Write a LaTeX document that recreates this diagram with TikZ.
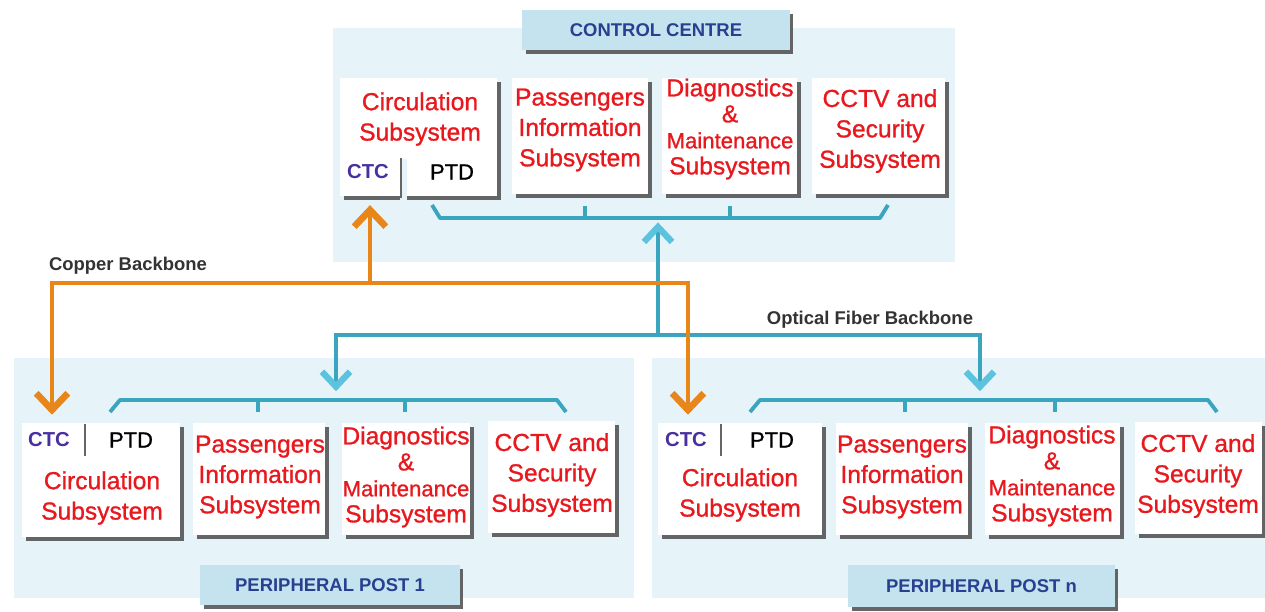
\documentclass[tikz,border=0pt]{standalone}
\usepackage{fontspec}
\setmainfont{Liberation Sans}
\newfontfamily\semib[FakeBold=1.0]{Liberation Sans}
\usetikzlibrary{arrows.meta,shadows}
\definecolor{panel}{HTML}{E6F3F9}
\definecolor{lab}{HTML}{C4E3EE}
\definecolor{labtxt}{HTML}{2A3F8F}
\definecolor{redt}{HTML}{E8191E}
\definecolor{ctccol}{HTML}{4A2FA0}
\definecolor{fibcol}{HTML}{3AA5BF}
\definecolor{fibtip}{HTML}{5CC3DE}
\definecolor{cucol}{HTML}{E8861A}
\definecolor{bbtxt}{HTML}{333333}
\tikzset{
  panelbox/.style={fill=panel, draw=none, inner sep=0pt},
  wbox/.style={fill=white, inner sep=0pt,
    drop shadow={shadow xshift=2pt, shadow yshift=-2.2pt, fill=black!70, opacity=0.85}},
  labbox/.style={fill=lab, inner sep=0pt, text=labtxt,
    font=\bfseries\fontsize{10.5}{12}\selectfont,
    drop shadow={shadow xshift=2pt, shadow yshift=-2.2pt, fill=black!70, opacity=0.85}},
  rtxt/.style={align=center, text=redt, inner sep=0pt, font=\semib\fontsize{14}{17.3}\selectfont},
  dtxt/.style={align=center, text=redt, inner sep=0pt, font=\semib\fontsize{14}{14.8}\selectfont},
  ctcbox/.style={inner sep=0pt, text=ctccol, font=\bfseries\fontsize{11.5}{13}\selectfont},
  ptdbox/.style={inner sep=0pt, text=black, font=\semib\fontsize{12.5}{14}\selectfont},
  bbtext/.style={inner sep=0pt, text=bbtxt, font=\bfseries\fontsize{10.5}{12}\selectfont},
  fibline/.style={draw=fibcol, line width=2.2pt},
  culine/.style={draw=cucol, line width=2.2pt},
  fibarrow/.style={fibline, -{Straight Barb[length=8.5pt,width=16pt,line width=3.6pt,color=fibtip]}},
  cuarrow/.style={culine, -{Straight Barb[length=9.5pt,width=18pt,line width=3.8pt]}},
  gapbar/.style={draw=black!60, line width=1.5pt},
}
\newcommand{\mnt}{{\fontsize{12.6}{14.8}\selectfont Maintenance}}
\begin{document}
\begin{tikzpicture}[x=0.02cm,y=-0.02cm]
\useasboundingbox[fill=white] (0,0) rectangle (1265,612);
% panels
\node[panelbox, minimum width=12.44cm, minimum height=4.68cm] (ccpanel) at (644,145) {};
\node[panelbox, minimum width=12.4cm, minimum height=4.8cm] (pp1panel) at (324,478) {};
\node[panelbox, minimum width=12.26cm, minimum height=4.8cm] (ppnpanel) at (958.5,478) {};

% brackets
\draw[fibline, line join=round] (432,205) -- (440,218) -- (880,218) -- (888,205);
\draw[fibline] (585,218) -- (585,206) (730,218) -- (730,206);
\draw[fibline, line join=round] (110,412) -- (120,400) -- (557,400) -- (566,412);
\draw[fibline] (258,400) -- (258,412) (405,400) -- (405,412);
\draw[fibline, line join=round] (750,412) -- (760,400) -- (1208,400) -- (1217,412);
\draw[fibline] (905,400) -- (905,412) (1055,400) -- (1055,412);
\coordinate (brA) at (658,218);
\coordinate (brB) at (336,400);
\coordinate (brC) at (980,400);
\coordinate (fy) at (0,335);
\coordinate (cuy) at (0,283);

% control centre boxes
\node[wbox, minimum width=3.14cm, minimum height=2.36cm] (circA) at (418.5,137) {};
\node[rtxt] (circAt) at (420,119) {Circulation\\Subsystem};
\node[minimum width=1.2cm, minimum height=0.72cm, inner sep=0pt] (ctcA) at (370,178) {};
\node[ctcbox] (ctcAt) at (368,172) {CTC};
\node[ptdbox] (ptdA) at (452,172) {PTD};
\fill[panel] (400,159) rectangle (407,200);
\draw[gapbar] (401,158) -- (401,198);
\node[wbox, minimum width=2.72cm, minimum height=2.32cm] (passA) at (580,136) {};
\node[rtxt] (passAt) at (580,130) {Passengers\\Information\\Subsystem};
\node[wbox, minimum width=2.70cm, minimum height=2.32cm] (diagA) at (729.5,136) {};
\node[dtxt] (diagAt) at (730,129) {Diagnostics\\\&\\\mnt\\Subsystem};
\node[wbox, minimum width=2.66cm, minimum height=2.32cm] (cctvA) at (878.5,136) {};
\node[rtxt] (cctvAt) at (880,131) {CCTV and\\Security\\Subsystem};

% peripheral post 1
\node[wbox, minimum width=3.16cm, minimum height=2.28cm] (circB) at (101,480) {};
\node[rtxt] (circBt) at (102,498) {Circulation\\Subsystem};
\node[minimum width=1.2cm, minimum height=0.64cm, inner sep=0pt] (ctcB) at (52,439) {};
\node[ctcbox] (ctcBt) at (49,440) {CTC};
\node[ptdbox] (ptdB) at (131,440) {PTD};
\draw[gapbar] (85,424) -- (85,456);
\node[wbox, minimum width=2.64cm, minimum height=2.24cm] (passB) at (259,479) {};
\node[rtxt] (passBt) at (260,477) {Passengers\\Information\\Subsystem};
\node[wbox, minimum width=2.56cm, minimum height=2.24cm] (diagB) at (406,479) {};
\node[dtxt] (diagBt) at (406,477) {Diagnostics\\\&\\\mnt\\Subsystem};
\node[wbox, minimum width=2.54cm, minimum height=2.24cm] (cctvB) at (551.5,477) {};
\node[rtxt] (cctvBt) at (552,475) {CCTV and\\Security\\Subsystem};

% peripheral post n
\node[wbox, minimum width=3.28cm, minimum height=2.24cm] (circC) at (740,479) {};
\node[rtxt] (circCt) at (740,495) {Circulation\\Subsystem};
\node[minimum width=1.2cm, minimum height=0.64cm, inner sep=0pt] (ctcC) at (688,439) {};
\node[ctcbox] (ctcCt) at (686,440) {CTC};
\node[ptdbox] (ptdC) at (772,440) {PTD};
\draw[gapbar] (721,424) -- (721,456);
\node[wbox, minimum width=2.64cm, minimum height=2.24cm] (passC) at (902,479) {};
\node[rtxt] (passCt) at (902,477) {Passengers\\Information\\Subsystem};
\node[wbox, minimum width=2.70cm, minimum height=2.24cm] (diagC) at (1052.5,479) {};
\node[dtxt] (diagCt) at (1052,476) {Diagnostics\\\&\\\mnt\\Subsystem};
\node[wbox, minimum width=2.54cm, minimum height=2.24cm] (cctvC) at (1198.5,478) {};
\node[rtxt] (cctvCt) at (1198,476) {CCTV and\\Security\\Subsystem};

% labels
\node[labbox, minimum width=5.36cm, minimum height=0.8cm] (cclab) at (656,30) {CONTROL CENTRE};
\node[labbox, minimum width=5.2cm, minimum height=0.8cm] (pp1lab) at (330,585) {PERIPHERAL POST 1};
\node[labbox, minimum width=5.34cm, minimum height=0.84cm] (ppnlab) at (981.5,586) {PERIPHERAL POST n};

% optical fiber backbone
\draw[fibarrow, shorten >=2.5pt] (brA |- fy) -- (brA);
\draw[fibarrow, shorten >=5pt] (brA |- fy) -| (brB);
\draw[fibarrow, shorten >=5pt] (brA |- fy) -| (brC);
\node[bbtext] (fibtxt) at (870,320) {Optical Fiber Backbone};

% copper backbone
\draw[cuarrow, shorten >=5pt] (ctcA.south |- cuy) -- (ctcA.south);
\draw[cuarrow, shorten >=4.5pt] (ctcA.south |- cuy) -| (ctcB.north);
\draw[cuarrow, shorten >=4.5pt] (ctcA.south |- cuy) -| (ctcC.north);
\node[bbtext] (cutxt) at (128,266) {Copper Backbone};
\end{tikzpicture}
\end{document}
